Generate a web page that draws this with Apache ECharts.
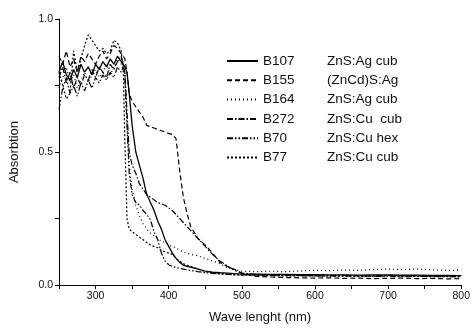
<!DOCTYPE html>
<html><head><meta charset="utf-8">
<script src="https://cdn.jsdelivr.net/npm/echarts@6/dist/echarts.min.js"></script>
<style>html,body{margin:0;padding:0;background:#fff}#c{width:473px;height:329px}</style>
</head><body><div id="c"></div>
<script>
const wavelengths = [250,255,260,265,270,275,280,285,290,295,300,305,310,315,320,325,330,335,338,340,343,346,350,355,360,365,370,375,380,385,390,395,400,405,410,415,420,425,430,440,450,460,470,480,490,500,520,540,560,580,600,620,640,660,680,700,720,740,760,780,800];
const B107 = [0.80,0.84,0.79,0.77,0.81,0.78,0.83,0.80,0.82,0.79,0.83,0.81,0.84,0.82,0.85,0.83,0.86,0.84,0.83,0.82,0.80,0.72,0.60,0.50,0.45,0.40,0.34,0.31,0.28,0.24,0.21,0.17,0.145,0.12,0.10,0.085,0.075,0.07,0.067,0.06,0.052,0.048,0.046,0.045,0.043,0.042,0.041,0.040,0.040,0.039,0.039,0.038,0.038,0.037,0.038,0.038,0.037,0.037,0.036,0.036,0.035];
const B155 = [0.86,0.83,0.88,0.82,0.85,0.80,0.86,0.84,0.87,0.85,0.83,0.86,0.88,0.85,0.87,0.90,0.89,0.87,0.86,0.85,0.80,0.72,0.69,0.67,0.65,0.63,0.60,0.595,0.59,0.585,0.58,0.575,0.57,0.566,0.55,0.43,0.33,0.27,0.22,0.175,0.15,0.12,0.085,0.07,0.058,0.045,0.032,0.03,0.028,0.027,0.026,0.027,0.025,0.026,0.024,0.025,0.026,0.024,0.025,0.023,0.024];
const B164 = [0.74,0.78,0.82,0.76,0.79,0.74,0.77,0.80,0.76,0.79,0.81,0.78,0.80,0.83,0.79,0.82,0.85,0.83,0.84,0.80,0.60,0.45,0.36,0.30,0.26,0.23,0.21,0.195,0.185,0.175,0.165,0.16,0.15,0.145,0.14,0.13,0.125,0.12,0.115,0.11,0.10,0.09,0.08,0.065,0.058,0.052,0.05,0.052,0.05,0.053,0.055,0.054,0.056,0.055,0.058,0.06,0.058,0.06,0.057,0.055,0.056];
const B272 = [0.78,0.82,0.76,0.80,0.74,0.78,0.75,0.79,0.77,0.81,0.78,0.82,0.80,0.78,0.83,0.81,0.84,0.86,0.82,0.80,0.65,0.50,0.45,0.42,0.38,0.36,0.34,0.33,0.32,0.31,0.305,0.30,0.29,0.28,0.265,0.25,0.235,0.22,0.205,0.175,0.145,0.115,0.09,0.072,0.055,0.045,0.04,0.038,0.037,0.036,0.036,0.035,0.036,0.034,0.035,0.036,0.034,0.035,0.033,0.034,0.035];
const B70 = [0.66,0.74,0.78,0.72,0.75,0.71,0.76,0.73,0.77,0.74,0.78,0.76,0.79,0.77,0.80,0.78,0.82,0.80,0.82,0.79,0.60,0.42,0.34,0.31,0.30,0.28,0.265,0.245,0.20,0.17,0.12,0.09,0.076,0.07,0.066,0.063,0.06,0.057,0.055,0.05,0.046,0.044,0.042,0.04,0.039,0.038,0.037,0.036,0.036,0.035,0.034,0.035,0.033,0.034,0.032,0.033,0.034,0.032,0.033,0.031,0.032];
const B77 = [0.80,0.75,0.70,0.72,0.88,0.80,0.85,0.90,0.94,0.92,0.90,0.88,0.89,0.87,0.88,0.92,0.91,0.88,0.80,0.55,0.25,0.21,0.20,0.19,0.18,0.17,0.16,0.15,0.145,0.14,0.13,0.125,0.12,0.115,0.10,0.09,0.08,0.075,0.07,0.06,0.05,0.045,0.042,0.04,0.038,0.037,0.036,0.035,0.034,0.035,0.034,0.033,0.034,0.032,0.033,0.034,0.032,0.033,0.031,0.032,0.031];
const sampleNames = ['B107','B155','B164','B272','B70','B77'];
const sampleDescriptions = ['ZnS:Ag cub','(ZnCd)S:Ag','ZnS:Ag cub','ZnS:Cu  cub','ZnS:Cu hex','ZnS:Cu cub'];
const seriesValues = [B107,B155,B164,B272,B70,B77];
const xTickLabels = [300,400,500,600,700,800];
const yTickLabels = [0.0,0.5,1.0];

const dashes = ['solid',[5,3],[1,3],[6,2,1.5,2],[6,2,1.5,2,1.5,2],[2,2]];
const widths = [1.3,1.2,1.2,1.2,1.2,1.2];
const FONT = 'Liberation Sans, Arial, sans-serif';

const series = sampleNames.map((n,i)=>({
  name:n, type:'line', symbol:'none', showSymbol:false, animation:false,
  data: wavelengths.map((w,k)=>[w, seriesValues[i][k]]),
  lineStyle:{color:'#000', width:widths[i], type:dashes[i]},
  itemStyle:{color:'#000'}
}));
const descMap = {}; sampleNames.forEach((n,i)=>descMap[n]=sampleDescriptions[i]);

const chart = echarts.init(document.getElementById('c'), null, {renderer:'canvas'});
chart.setOption({
  animation:false,
  backgroundColor:'#fff',
  grid:{left:58,right:7,top:19,bottom:44,containLabel:false},
  legend:{
    orient:'vertical', left:221, top:49, itemWidth:31, itemHeight:12, itemGap:5.3,
    itemStyle:{opacity:0, borderWidth:0},
    textStyle:{fontFamily:FONT,fontSize:13.5,color:'#111',
      rich:{a:{width:64,fontFamily:FONT,fontSize:13.5,color:'#111'},b:{fontFamily:FONT,fontSize:13.5,color:'#111'}}},
    formatter: n => '{a|'+n+'}{b|'+descMap[n]+'}',
    data: sampleNames
  },
  xAxis:{
    type:'value', min:250, max:800, interval:50,
    name:'Wave lenght (nm)', nameLocation:'middle', nameGap:26,
    nameTextStyle:{fontFamily:FONT,fontSize:13,color:'#111'},
    axisLine:{show:true,lineStyle:{color:'#000',width:1}},
    axisTick:{show:true,length:4,inside:false,lineStyle:{color:'#000'}},
    axisLabel:{fontFamily:FONT,fontSize:10.5,color:'#111',margin:6,
      formatter:v=> xTickLabels.indexOf(v)>=0 ? String(v) : ''},
    splitLine:{show:false}
  },
  yAxis:{
    type:'value', min:0, max:1, interval:0.25,
    name:'Absorbtion', nameLocation:'middle', nameGap:38,
    nameTextStyle:{fontFamily:FONT,fontSize:13,color:'#111'},
    axisLine:{show:true,lineStyle:{color:'#000',width:1}},
    axisTick:{show:true,length:4,inside:false,lineStyle:{color:'#000'}},
    axisLabel:{fontFamily:FONT,fontSize:10.5,color:'#111',margin:6,
      formatter:v=> yTickLabels.some(t=>Math.abs(t-v)<1e-9) ? v.toFixed(1) : ''},
    splitLine:{show:false}
  },
  series: series
});
</script></body></html>
